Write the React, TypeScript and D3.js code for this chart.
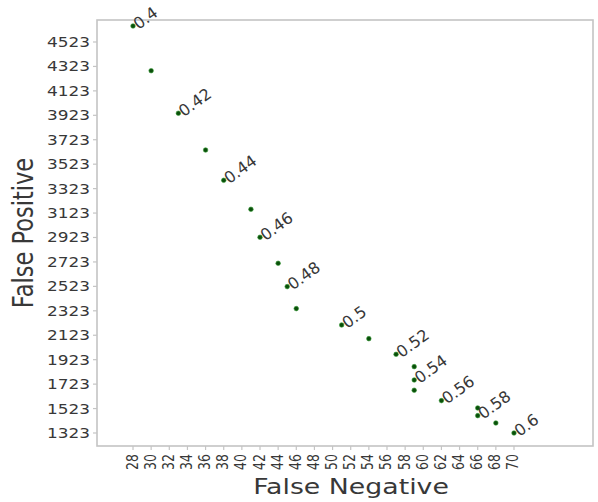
import React from "react";
import * as d3 from "d3";

// Decision thresholds and the resulting error counts
const thresholds = [0.4, 0.41, 0.42, 0.43, 0.44, 0.45, 0.46, 0.47, 0.48, 0.49, 0.5, 0.51, 0.52, 0.53, 0.54, 0.55, 0.56, 0.57, 0.58, 0.59, 0.6];
const falseNegatives = [28, 30, 33, 36, 38, 41, 42, 44, 45, 46, 51, 54, 57, 59, 59, 59, 62, 66, 66, 68, 70];
const falsePositives = [4654, 4288, 3940, 3639, 3391, 3154, 2925, 2712, 2521, 2341, 2207, 2095, 1967, 1866, 1757, 1673, 1588, 1528, 1465, 1405, 1323];

// Axis ticks
const xTicks = [28, 30, 32, 34, 36, 38, 40, 42, 44, 46, 48, 50, 52, 54, 56, 58, 60, 62, 64, 66, 68, 70];
const yTicks = [1323, 1523, 1723, 1923, 2123, 2323, 2523, 2723, 2923, 3123, 3323, 3523, 3723, 3923, 4123, 4323, 4523];

const W = 598;
const H = 502;
const plot = { left: 97, top: 20, right: 593, bottom: 446 };
const SX = 1.245; // horizontal text widening
const FONT = "DejaVu Sans, sans-serif";
const TEXT = "#383838";
const SPINE = "#c4c4c4";

export default function App() {
  const x = d3.scaleLinear().domain([24.03, 78.71]).range([plot.left, plot.right]);
  const y = d3.scaleLinear().domain([1216.6, 4703]).range([plot.bottom, plot.top]);

  const points = thresholds.map((t, i) => ({ t, fn: falseNegatives[i], fp: falsePositives[i], i }));

  return (
    <svg
      width={W}
      height={H}
      style={{ position: "absolute", left: 0, top: 0, background: "#fff" }}
      fontFamily={FONT}
    >
      <rect x={0} y={0} width={W} height={H} fill="#fff" />

      {/* frame */}
      <rect
        x={plot.left}
        y={plot.top}
        width={plot.right - plot.left}
        height={plot.bottom - plot.top}
        fill="none"
        stroke={SPINE}
        strokeWidth={1.6}
      />

      {/* y axis */}
      {yTicks.map((v) => (
        <g key={"y" + v}>
          <line x1={plot.left - 4} x2={plot.left} y1={y(v)} y2={y(v)} stroke={SPINE} strokeWidth={1.2} />
          <text
            transform={`translate(${plot.left - 7},${y(v) + 5}) scale(${SX},1)`}
            textAnchor="end"
            fontSize={13.6}
            fill={TEXT}
          >
            {v}
          </text>
        </g>
      ))}

      {/* x axis */}
      {xTicks.map((v) => (
        <g key={"x" + v}>
          <line x1={x(v)} x2={x(v)} y1={plot.bottom} y2={plot.bottom + 4} stroke={SPINE} strokeWidth={1.2} />
          <text
            transform={`translate(${x(v) + 4.5},${plot.bottom + 8}) scale(${SX},1) rotate(-90)`}
            textAnchor="end"
            fontSize={12.5}
            fill={TEXT}
          >
            {v}
          </text>
        </g>
      ))}

      {/* axis titles */}
      <text
        transform={`translate(351,494) scale(${SX},1)`}
        textAnchor="middle"
        fontSize={21.5}
        fill={TEXT}
      >
        False Negative
      </text>
      <text
        transform={`translate(33,233) scale(${SX},1) rotate(-90)`}
        textAnchor="middle"
        fontSize={22.5}
        fill={TEXT}
      >
        False Positive
      </text>

      {/* points */}
      {points.map((p) => (
        <circle key={"p" + p.i} cx={x(p.fn)} cy={y(p.fp)} r={2.3} fill="#0a4f0a" stroke="#3a9e3a" strokeWidth={0.6} />
      ))}

      {/* threshold annotations */}
      {points
        .filter((p) => p.i % 2 === 0)
        .map((p) => (
          <text
            key={"a" + p.i}
            transform={`translate(${x(p.fn) + 5.5},${y(p.fp) + 4}) rotate(-36)`}
            fontSize={16}
            fill={TEXT}
          >
            {String(p.t)}
          </text>
        ))}
    </svg>
  );
}
